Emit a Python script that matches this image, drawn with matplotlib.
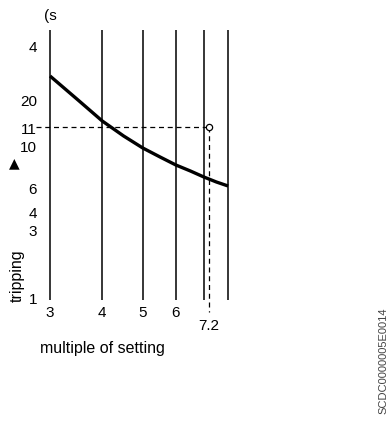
import matplotlib
matplotlib.use('Agg')
from matplotlib import pyplot as plt

plt.rcParams['font.family'] = ['Liberation Sans', 'DejaVu Sans']

# data (x = multiple of setting, y = chart height units above the base line)
grid_multiples = [3, 4, 5, 6, 7, 8]
tick_multiples = [3, 4, 5, 6]
tick_labels = ['3', '4', '5', '6']
curve_multiple = [3, 3.5, 4, 4.5, 5, 5.5, 6, 6.5, 7, 7.5, 8]
curve_height = [224, 200, 179, 164, 152, 143, 135, 129, 123, 118, 114]
y_label_pos = [254, 200, 172, 154, 111, 88, 70, 2]
y_labels = ['4', '20', '11', '10', '6', '4', '3', '1']
setting = 7.2
setting_height = 173
grid_top = 270

fig = plt.figure(figsize=(3.9, 4.26), dpi=100)
ax = fig.add_axes([44 / 390, (426 - 305) / 426, 201 / 390, 285 / 426])
ax.set_xscale('log')
ax.set_xlim(2.902, 8.78)
ax.set_ylim(-5, 280)

# vertical grid lines
ax.vlines(grid_multiples, 0, grid_top, color='black', lw=1.1)

# curve
ax.plot(curve_multiple, curve_height, color='black', lw=2.4, solid_capstyle='butt')

# dashed marker lines
ax.plot([2.777, setting], [setting_height, setting_height], color='black', lw=0.9,
        ls=(0, (4, 3)), clip_on=False)
ax.plot([setting, setting], [setting_height, -12], color='black', lw=0.9,
        ls=(0, (4, 3)), clip_on=False)
ax.plot([setting], [setting_height], 'o', mfc='white', mec='black', ms=4.5, mew=0.9,
        zorder=5)

for s in ax.spines.values():
    s.set_visible(False)

ax.set_xticks(tick_multiples)
ax.set_xticklabels(tick_labels, fontsize=11)
ax.xaxis.set_minor_locator(matplotlib.ticker.NullLocator())
ax.tick_params(axis='x', length=0, pad=1)
ax.text(setting, -19, '7.2', ha='center', va='top', fontsize=11)

ax.set_yticks(y_label_pos)
ax.set_yticklabels(y_labels, fontsize=11)
ax.tick_params(axis='y', length=0, pad=5)

fig.text(44 / 390, 1 - 16 / 426, '(s', fontsize=11, va='center', ha='left')
fig.text(14 / 390, 1 - 163 / 426, '▲', fontsize=10, va='center', ha='center',
         family='DejaVu Sans')
fig.text(17 / 390, 1 - 276 / 426, 'tripping', fontsize=11.5, rotation=90,
         va='center', ha='center')
fig.text(40 / 390, 1 - 349 / 426, 'multiple of setting', fontsize=11.5,
         va='center', ha='left')
fig.text(383 / 390, 1 - 308 / 426, 'SCDC0000005E0014', fontsize=8, rotation=90,
         va='top', ha='center', color='#444444')

fig.savefig('out.png', dpi=100)
